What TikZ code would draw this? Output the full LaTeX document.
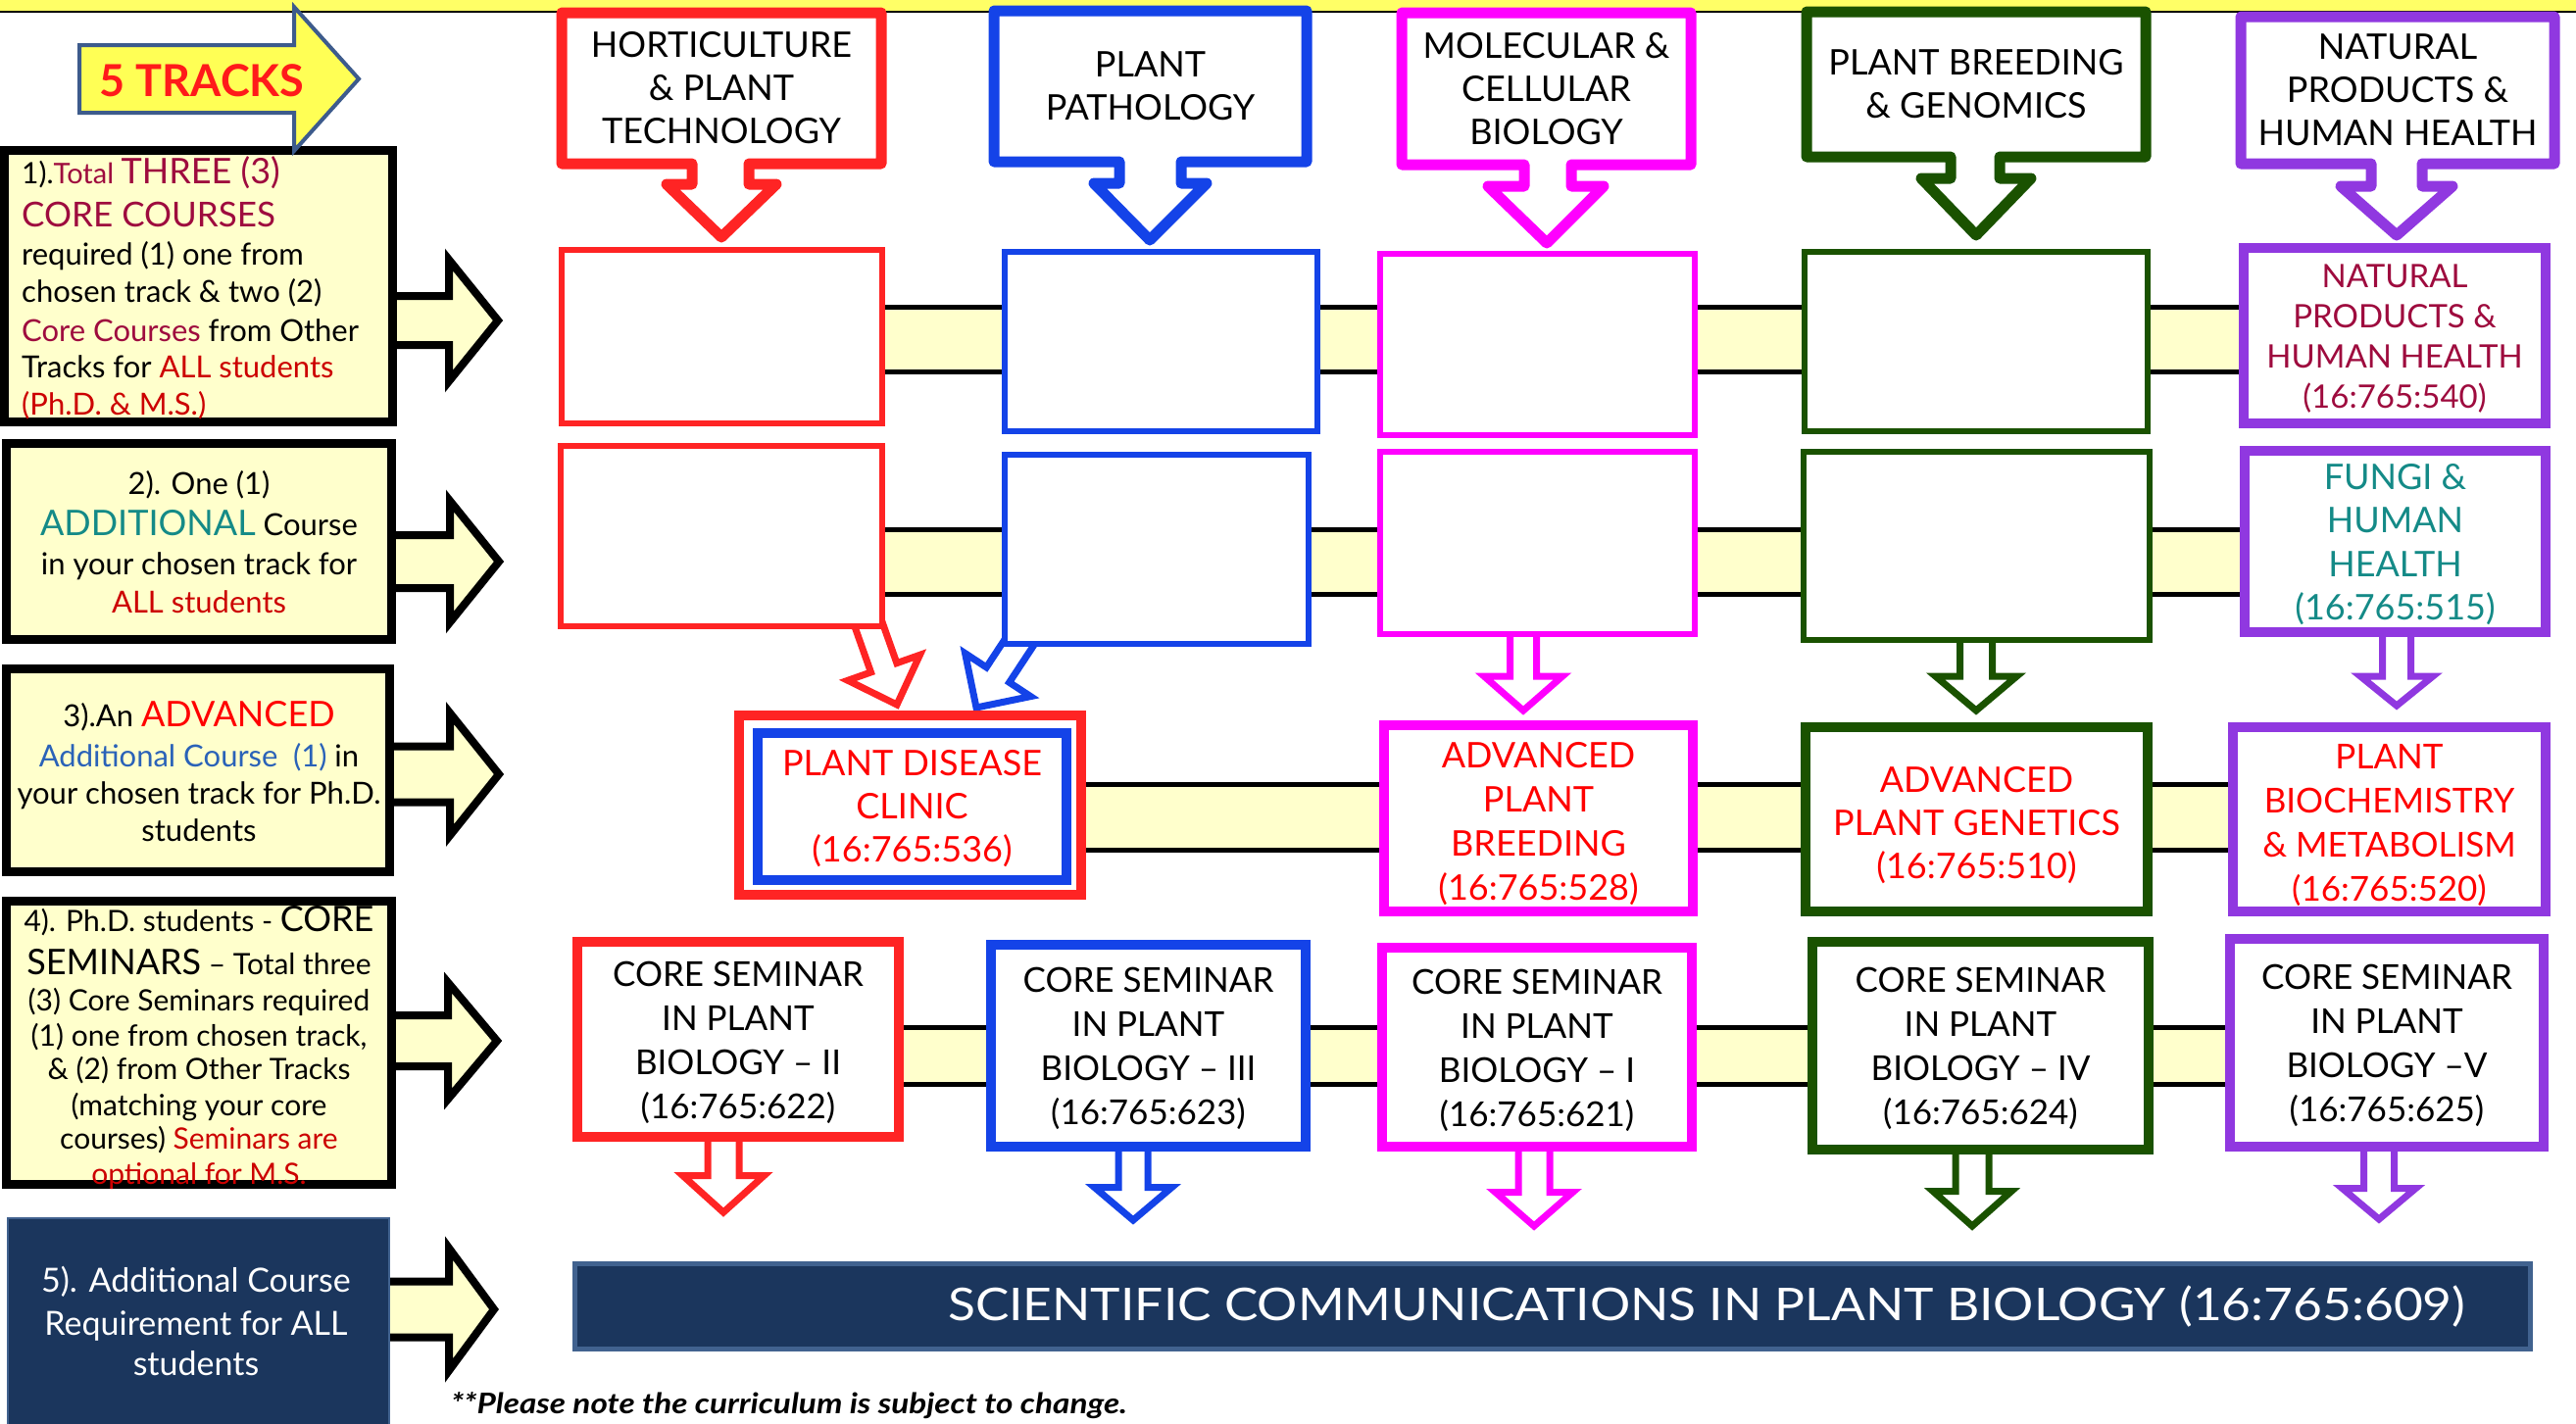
\documentclass[tikz,border=0pt]{standalone}
\usepackage{fontspec}
\setmainfont{Lato}
\newfontfamily\scifont[FakeStretch=1.12]{Lato}
\newfontfamily\notefont[FakeStretch=1.15]{Lato}
\usetikzlibrary{calc}
\pgfdeclarelayer{bgl}
\pgfdeclarelayer{midl}
\pgfsetlayers{bgl,midl,main}
\definecolor{cred}{HTML}{FF2424}
\definecolor{cblue}{HTML}{1443E8}
\definecolor{cmag}{HTML}{FF00FF}
\definecolor{cgreen}{HTML}{1A5200}
\definecolor{cpurp}{HTML}{9038E0}
\definecolor{lyel}{HTML}{FFFFCC}
\definecolor{cmaroon}{HTML}{9E0B3E}
\definecolor{cteal}{HTML}{148A87}
\definecolor{tred}{HTML}{FF0000}
\definecolor{allred}{HTML}{CC0000}
\definecolor{addblue}{HTML}{2A62B8}
\definecolor{cnavy}{HTML}{1B365D}
\definecolor{cnavyb}{HTML}{41628F}
\definecolor{tyel}{HTML}{FFFF55}
\definecolor{tblue}{HTML}{3D5B8C}
\definecolor{syel}{HTML}{FFFF66}
\definecolor{fivered}{HTML}{FF1A1A}
\newcommand\fsz[2]{\fontsize{#1}{#2}\selectfont}
\newcommand\tstrut[1]{\rule{0pt}{#1pt}}
\newcommand\bx[8]{\node[#7, line width=#6, minimum width={(#4-#2-#6)*1pt}, minimum height={(#5-#3-#6)*1pt}] (#1) at ({(#2+#4)/2},{(#3+#5)/2}) {#8};}
\newcommand\blockarrow[7]{%
 \coordinate (#1s) at (#2);
 \coordinate (#1t) at (#3);
 \coordinate (#1b) at ($(#1t)!#6!(#1s)$);
 \draw[#7] ($(#1s)!#4!90:(#1t)$) -- ($(#1b)!#4!90:(#1t)$) -- ($(#1b)!#5!90:(#1t)$) -- (#1t) -- ($(#1b)!#5!-90:(#1t)$) -- ($(#1b)!#4!-90:(#1t)$) -- ($(#1s)!#4!-90:(#1t)$) -- cycle;}
\begin{document}
\begin{tikzpicture}[x=1pt,y=-1pt,
 lbox/.style={draw=black, fill=lyel, inner sep=0pt},
 cbox/.style={draw=#1, fill=white, inner sep=0pt, align=center},
 hollow/.style={draw=#1, fill=white, line width=7, line join=miter},
 blk/.style={draw=black, fill=lyel, line width=8, line join=miter},
 band/.style={draw=black, line width=5, double=lyel, double distance=#1},
 callout/.style={draw=#1, fill=white, line width=11, line join=round},
 htext/.style={align=center, inner sep=0pt, font=\fsz{36}{44}},
 ltext/.style={inner sep=0pt, anchor=base west},
 ctext/.style={inner sep=0pt, anchor=base},
]
\useasboundingbox (0,0) rectangle (2628,1452);
\begin{pgfonlayer}{bgl}
\fill[white] (0,0) rectangle (2628,1452);
\fill[syel] (0,0) rectangle (2628,12);
\draw[line width=2] (0,12) -- (2628,12);
\end{pgfonlayer}

% left requirement boxes
\bx{lb1}{0}{149}{405}{435}{9}{lbox}{}
\bx{lb2}{2}{448}{404}{657}{9}{lbox}{}
\bx{lb3}{2}{678}{402}{894}{9}{lbox}{}
\bx{lb4}{2}{915}{404}{1213}{9}{lbox}{}
\bx{lb5}{7}{1242}{398}{1462}{2}{draw=cnavyb, fill=cnavy, inner sep=0pt}{}

% row 1
\bx{r1a}{570}{252}{903}{435}{6}{cbox=cred}{}
\bx{r1b}{1022}{254}{1347}{443}{6}{cbox=cblue}{}
\bx{r1c}{1405}{256}{1732}{447}{6}{cbox=cmag}{}
\bx{r1d}{1838}{254}{2194}{443}{6}{cbox=cgreen}{}
\bx{r1e}{2284}{248}{2602}{437}{10}{cbox=cpurp, font=\fsz{33}{41}, text=cmaroon}{\tstrut{30}NATURAL\\PRODUCTS \&\\HUMAN HEALTH\\(16:765:540)}
% row 2
\bx{r2a}{569}{452}{903}{642}{6}{cbox=cred}{}
\bx{r2b}{1022}{461}{1338}{660}{6}{cbox=cblue}{}
\bx{r2c}{1405}{458}{1732}{650}{6}{cbox=cmag}{}
\bx{r2d}{1837}{458}{2196}{656}{6}{cbox=cgreen}{}
\bx{r2e}{2285}{455}{2602}{650}{10}{cbox=cpurp, font=\fsz{36}{44.5}, text=cteal}{\tstrut{32}FUNGI \&\\HUMAN\\HEALTH\\(16:765:515)}
% row 3
\bx{r3a}{749}{725}{1108}{918}{10}{cbox=cred}{}
\bx{r3ai}{768}{743}{1093}{903}{10}{cbox=cblue, font=\fsz{36}{44}, text=tred}{\tstrut{30}PLANT DISEASE\\CLINIC\\(16:765:536)}
\bx{r3c}{1407}{735}{1732}{935}{10}{cbox=cmag, font=\fsz{36}{45}, text=tred}{\tstrut{38}ADVANCED\\PLANT\\BREEDING\\(16:765:528)}
\bx{r3d}{1837}{737}{2196}{935}{10}{cbox=cgreen, font=\fsz{36}{44}, text=tred}{\tstrut{38}ADVANCED\\PLANT GENETICS\\(16:765:510)}
\bx{r3e}{2273}{737}{2602}{935}{10}{cbox=cpurp, font=\fsz{35}{45}, text=tred}{\tstrut{38}PLANT\\BIOCHEMISTRY\\\& METABOLISM\\(16:765:520)}
% row 4
\bx{r4a}{584}{956}{922}{1165}{10}{cbox=cred, font=\fsz{35}{45}}{\tstrut{32}CORE SEMINAR\\IN PLANT\\BIOLOGY \textendash{} II\\(16:765:622)}
\bx{r4b}{1006}{959}{1337}{1175}{10}{cbox=cblue, font=\fsz{35}{45}}{\tstrut{32}CORE SEMINAR\\IN PLANT\\BIOLOGY \textendash{} III\\(16:765:623)}
\bx{r4c}{1405}{962}{1731}{1175}{10}{cbox=cmag, font=\fsz{35}{45}}{\tstrut{32}CORE SEMINAR\\IN PLANT\\BIOLOGY \textendash{} I\\(16:765:621)}
\bx{r4d}{1844}{956}{2197}{1178}{10}{cbox=cgreen, font=\fsz{35}{45}}{\tstrut{32}CORE SEMINAR\\IN PLANT\\BIOLOGY \textendash{} IV\\(16:765:624)}
\bx{r4e}{2270}{953}{2600}{1175}{10}{cbox=cpurp, font=\fsz{35}{45}}{\tstrut{32}CORE SEMINAR\\IN PLANT\\BIOLOGY \textendash V\\(16:765:625)}
% bottom bar
\bx{sci}{584}{1287}{2584}{1379}{5}{draw=cnavyb, fill=cnavy, inner sep=0pt}{}
\node[inner sep=0pt, text=white, font=\scifont\fsz{46}{50}] (scitext) at (1741,1333) {SCIENTIFIC COMMUNICATIONS IN PLANT BIOLOGY (16:765:609)};

% bands and arrows behind boxes
\begin{pgfonlayer}{midl}
\coordinate (y1) at (0,346.5);
\coordinate (y2) at (0,573.5);
\coordinate (y3) at (0,833.5);
\coordinate (y4) at (0,1077.5);
\draw[band=61pt] (r1a |- y1) -- (r1e |- y1);
\draw[band=61pt] (r2a |- y2) -- (r2e |- y2);
\draw[band=62pt] (r3a |- y3) -- (r3e |- y3);
\draw[band=53pt] (r4a |- y4) -- (r4e |- y4);
\blockarrow{la1}{380,327}{508,327}{25pt}{62pt}{50pt}{blk}
\blockarrow{la2}{380,573}{509,573}{27pt}{62pt}{50pt}{blk}
\blockarrow{la3}{380,790}{509,790}{28.5pt}{62.5pt}{50pt}{blk}
\blockarrow{la4}{380,1062}{507,1062}{26pt}{59.5pt}{50pt}{blk}
\blockarrow{la5}{380,1336}{504,1336}{28.5pt}{62.5pt}{46pt}{blk}
\blockarrow{d2a}{880,620}{915,719}{14pt}{39pt}{40pt}{hollow=cred}
\blockarrow{d2b}{1050,640}{996,722}{14pt}{40pt}{40pt}{hollow=cblue}
\blockarrow{d2c}{1554,640}{1554,725}{13.5pt}{40pt}{35pt}{hollow=cmag}
\blockarrow{d2d}{2016,640}{2016,725}{16.5pt}{41.5pt}{35pt}{hollow=cgreen}
\blockarrow{d2e}{2445,640}{2445,720}{14.5pt}{37pt}{30pt}{hollow=cpurp}
\blockarrow{d4a}{738,1150}{738,1237}{16pt}{41.5pt}{37.5pt}{hollow=cred}
\blockarrow{d4b}{1156,1160}{1156,1245}{15pt}{39.5pt}{33.5pt}{hollow=cblue}
\blockarrow{d4c}{1565,1160}{1565,1251}{16pt}{39.5pt}{34.5pt}{hollow=cmag}
\blockarrow{d4d}{2012,1160}{2012,1251}{17pt}{40pt}{35.5pt}{hollow=cgreen}
\blockarrow{d4e}{2427,1160}{2427,1244}{15.5pt}{37.5pt}{31.5pt}{hollow=cpurp}
\end{pgfonlayer}

% 5 TRACKS arrow
\blockarrow{ta}{81,80.5}{366,80.5}{34.5pt}{73.5pt}{66pt}{draw=tblue, fill=tyel, line width=4}
\node[ctext] (tt) at (206,98) {\fsz{45}{50}\bfseries\color{fivered}5 TRACKS};

% track header callouts
\draw[callout=cred] (573,13) -- (899,13) -- (899,167) -- (764,167) -- (764,188) -- (792,188) -- (736,242) -- (680,188) -- (706,188) -- (706,167) -- (573,167) -- cycle;
\node[htext] (hd1) at (736,90) {HORTICULTURE\\\& PLANT\\TECHNOLOGY};
\draw[callout=cblue] (1014,11) -- (1333,11) -- (1333,165) -- (1205,165) -- (1205,187) -- (1231,187) -- (1173,245) -- (1116,187) -- (1142,187) -- (1142,165) -- (1014,165) -- cycle;
\node[htext] (hd2) at (1173.5,88) {PLANT\\PATHOLOGY};
\draw[callout=cmag] (1430,13) -- (1725,13) -- (1725,168) -- (1603,168) -- (1603,190) -- (1636,190) -- (1578,248) -- (1518,190) -- (1555,190) -- (1555,168) -- (1430,168) -- cycle;
\node[htext] (hd3) at (1577.5,90.5) {MOLECULAR \&\\CELLULAR\\BIOLOGY};
\draw[callout=cgreen] (1843,12) -- (2189,12) -- (2189,160) -- (2040,160) -- (2040,182) -- (2072,182) -- (2016,240) -- (1960,182) -- (1990,182) -- (1990,160) -- (1843,160) -- cycle;
\node[htext] (hd4) at (2016,86) {PLANT BREEDING\\\& GENOMICS};
\draw[callout=cpurp] (2286,17) -- (2606,17) -- (2606,167) -- (2471,167) -- (2471,190) -- (2502,190) -- (2445,240) -- (2388,190) -- (2419,190) -- (2419,167) -- (2286,167) -- cycle;
\node[htext] (hd5) at (2446,92) {NATURAL\\PRODUCTS \&\\HUMAN HEALTH};

% box 1 text
\node[ltext] (t1a) at (22,187) {\fsz{30}{36}1).{\fsz{29}{32}\color{cmaroon}Total }{\fsz{36}{40}\color{cmaroon}THREE (3)}};
\node[ltext] (t1b) at (22,231) {\fsz{35}{40}\color{cmaroon}CORE COURSES};
\node[ltext] (t1c) at (22,270) {\fsz{31}{36}required (1) one from};
\node[ltext] (t1d) at (22,308) {\fsz{31}{36}chosen track \& two (2)};
\node[ltext] (t1e) at (22,348) {\fsz{31}{36}{\color{cmaroon}Core Courses} from Other};
\node[ltext] (t1f) at (22,385) {\fsz{31}{36}Tracks for {\color{allred}ALL students}};
\node[ltext] (t1g) at (22,423) {\fsz{31}{36}\color{allred}(Ph.D. \& M.S.)};
% box 2 text
\node[ctext] (t2a) at (203,504) {\fsz{31}{36}2). One (1)};
\node[ctext] (t2b) at (203,546) {\fsz{31}{36}{\fsz{36}{40}\color{cteal}ADDITIONAL} Course};
\node[ctext] (t2c) at (203,586) {\fsz{31}{36}in your chosen track for};
\node[ctext] (t2d) at (203,625) {\fsz{31}{36}\color{allred}ALL students};
% box 3 text
\node[ctext] (t3a) at (203,741) {\fsz{31}{36}3).An {\fsz{36}{40}\color{tred}ADVANCED}};
\node[ctext] (t3b) at (203,782) {\fsz{31}{36}{\color{addblue}Additional Course\enspace(1)} in};
\node[ctext] (t3c) at (203,820) {\fsz{31}{36}your chosen track for Ph.D.};
\node[ctext] (t3d) at (203,858) {\fsz{31}{36}students};
% box 4 text
\node[ctext] (t4a) at (203,950) {\fsz{30}{36}4). Ph.D. students - {\fsz{36}{40}CORE}};
\node[ctext] (t4b) at (203,994) {\fsz{30}{36}{\fsz{36}{40}SEMINARS} \textendash{} Total three};
\node[ctext] (t4c) at (203,1031) {\fsz{30}{36}(3) Core Seminars required};
\node[ctext] (t4d) at (203,1067) {\fsz{30}{36}(1) one from chosen track,};
\node[ctext] (t4e) at (203,1101) {\fsz{30}{36}\& (2) from Other Tracks};
\node[ctext] (t4f) at (203,1138) {\fsz{30}{36}(matching your core};
\node[ctext] (t4g) at (203,1172) {\fsz{30}{36}courses) {\color{allred}Seminars are}};
\node[ctext] (t4h) at (203,1208) {\fsz{30}{36}\color{allred}optional for M.S.};
% box 5 text
\node[ctext, text=white] (t5a) at (200,1318) {\fsz{34}{38}5). Additional Course};
\node[ctext, text=white] (t5b) at (200,1362) {\fsz{34}{38}Requirement for ALL};
\node[ctext, text=white] (t5c) at (200,1403) {\fsz{34}{38}students};
% footnote
\node[ltext] (fn) at (460,1442) {\notefont\fsz{29}{32}\bfseries\itshape **Please note the curriculum is subject to change.};
\end{tikzpicture}
\end{document}
